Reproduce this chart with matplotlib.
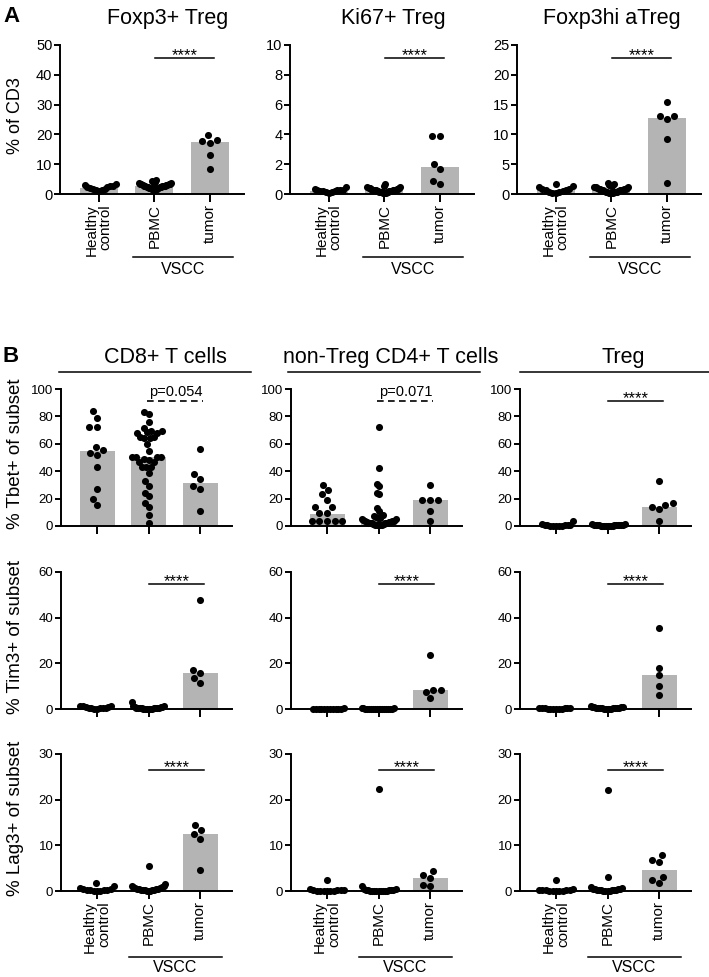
import numpy as np
import matplotlib
matplotlib.use("Agg")
import matplotlib.pyplot as plt
from matplotlib.lines import Line2D
from matplotlib.transforms import blended_transform_factory

plt.rcParams['font.family'] = ['Liberation Sans', 'DejaVu Sans']

# ---------------- data ----------------
categories = ['Healthy\ncontrol', 'PBMC', 'tumor']
group_label = 'VSCC'

# Panel A
a_titles = ['Foxp3+ Treg', 'Ki67+ Treg', 'Foxp3hi aTreg']
a_ylabel = '% of CD3'
a_ymax = [50, 10, 25]
a_ystep = [10, 2, 5]
a_sig = ['****', '****', '****']

foxp3_hc = [3.3, 2.9, 2.6, 2.4, 2.2, 2.0, 1.8, 1.6, 1.4, 1.2, 1.0, 2.7]
foxp3_pbmc = [4.6, 4.2, 4.0, 3.8, 3.7, 3.5, 3.4, 3.3, 3.2, 3.1, 3.0, 2.9, 2.8, 2.8, 2.7,
              2.6, 2.5, 2.4, 2.3, 2.2, 2.1, 2.0, 1.9, 1.8, 1.7, 1.6, 1.5, 1.4, 3.6, 2.6]
foxp3_tumor = [19.7, 17.2, 18.0, 17.7, 13.1, 8.5]
foxp3_bars = [2.0, 2.7, 17.6]

ki67_hc = [0.45, 0.35, 0.3, 0.28, 0.25, 0.2, 0.18, 0.15, 0.12, 0.1, 0.22, 0.3]
ki67_pbmc = [0.65, 0.55, 0.5, 0.45, 0.42, 0.4, 0.38, 0.35, 0.33, 0.3, 0.3, 0.28, 0.27, 0.25, 0.24,
             0.22, 0.2, 0.2, 0.18, 0.16, 0.15, 0.13, 0.12, 0.1, 0.08, 0.06, 0.35, 0.25, 0.2, 0.15]
ki67_tumor = [3.9, 3.9, 2.0, 1.7, 0.65, 0.9]
ki67_bars = [0.2, 0.25, 1.84]

atreg_hc = [1.6, 1.3, 1.1, 0.9, 0.8, 0.7, 0.6, 0.5, 0.4, 0.3, 0.25, 0.2]
atreg_pbmc = [1.9, 1.7, 1.5, 1.4, 1.3, 1.2, 1.1, 1.0, 1.0, 0.9, 0.9, 0.8, 0.8, 0.7, 0.7,
              0.6, 0.6, 0.5, 0.5, 0.4, 0.4, 0.35, 0.3, 0.3, 0.25, 0.2, 0.2, 0.15, 1.1, 0.6]
atreg_tumor = [15.5, 12.6, 13.1, 13.1, 9.2, 1.9]
atreg_bars = [0.6, 0.7, 12.8]

# Panel B
b_cols = ['CD8+ T cells', 'non-Treg CD4+ T cells', 'Treg']
b_ylabels = ['% Tbet+ of subset', '% Tim3+ of subset', '% Lag3+ of subset']
b_ymax = [100, 60, 30]
b_ystep = [20, 20, 10]
b_sig = [['p=0.054', 'p=0.071', '****'],
         ['****', '****', '****'],
         ['****', '****', '****']]

tbet_cd8_hc = [83.6, 78.7, 71.9, 71.9, 57.5, 55.5, 53.5, 51.8, 42.8, 26.7, 20.0, 15.2]
tbet_cd8_pbmc = [82.9, 81.7, 75.8, 71.4, 69.0, 69.4, 68.5, 68.0, 67.7, 64.8, 64.5, 64.0, 64.8, 60.0,
                 55.0, 50.6, 50.6, 50.6, 50.6, 48.0, 48.7, 47.0, 46.5, 42.8, 42.8, 42.8, 38.4,
                 32.8, 29.0, 24.2, 21.8, 16.9, 13.9, 8.3, 2.2]
tbet_cd8_tumor = [56.0, 37.7, 34.2, 29.1, 26.9, 10.8]
tbet_cd8_bars = [54.8, 50.6, 31.5]

tbet_cd4_hc = [30.2, 26.5, 23.4, 19.2, 13.6, 13.6, 9.2, 9.2, 3.5, 3.5, 3.5, 3.5, 3.5]
tbet_cd4_pbmc = [72, 42, 31, 29, 24, 23, 13, 11, 8, 7, 6.5, 6, 5.5, 5, 4.5, 4, 4, 3.5, 3, 3, 2.5,
                 2.5, 2, 2, 1.5, 1.5, 1, 1, 0.5, 0.5, 3, 5, 7, 2, 1]
tbet_cd4_tumor = [30.2, 19.2, 19.2, 19.2, 10.7, 3.9]
tbet_cd4_bars = [8.5, 4.5, 19.0]

tbet_treg_hc = [3.4, 1.5, 1.0, 0.8, 0.6, 0.5, 0.4, 0.3, 0.3, 0.2, 0.2, 0.1]
tbet_treg_pbmc = [1.5, 1.2, 1.0, 0.9, 0.8, 0.7, 0.6, 0.5, 0.5, 0.4, 0.4, 0.3, 0.3, 0.2, 0.2, 0.1,
                  0.1, 0.1, 0.6, 0.3]
tbet_treg_tumor = [33.1, 15.6, 12.4, 13.6, 16.5, 3.4]
tbet_treg_bars = [0.5, 0.3, 14.1]

tim3_cd8_hc = [1.5, 1.3, 1.2, 1.0, 0.8, 0.6, 0.5, 0.4, 0.3, 0.3, 0.2, 0.2]
tim3_cd8_pbmc = [2.9, 1.5, 1.2, 1.0, 0.8, 0.7, 0.6, 0.5, 0.5, 0.4, 0.4, 0.3, 0.3, 0.3, 0.2, 0.2,
                 0.2, 0.1, 0.1, 0.1]
tim3_cd8_tumor = [47.6, 17.1, 15.9, 13.7, 11.5]
tim3_cd8_bars = [0.5, 0.3, 15.9]

tim3_cd4_hc = [0.3, 0.2, 0.2, 0.15, 0.1, 0.1, 0.1, 0.05, 0.05, 0.05, 0.2, 0.1]
tim3_cd4_pbmc = [0.4, 0.3, 0.3, 0.2, 0.2, 0.2, 0.15, 0.1, 0.1, 0.1, 0.1, 0.05, 0.05, 0.05, 0.05,
                 0.2, 0.1, 0.1]
tim3_cd4_tumor = [23.8, 8.5, 7.4, 8.2, 4.6]
tim3_cd4_bars = [0.1, 0.1, 8.2]

tim3_treg_hc = [0.6, 0.5, 0.4, 0.4, 0.3, 0.3, 0.2, 0.2, 0.1, 0.1, 0.1, 0.1]
tim3_treg_pbmc = [1.2, 1.0, 0.9, 0.8, 0.7, 0.6, 0.6, 0.5, 0.5, 0.4, 0.4, 0.3, 0.3, 0.2, 0.2, 0.2,
                  0.1, 0.1]
tim3_treg_tumor = [35.4, 18.1, 14.7, 10.0, 6.3]
tim3_treg_bars = [0.2, 0.4, 14.7]

lag3_cd8_hc = [1.7, 1.2, 0.6, 0.5, 0.4, 0.3, 0.3, 0.2, 0.2, 0.1, 0.1, 0.1]
lag3_cd8_pbmc = [5.5, 1.5, 1.2, 1.0, 0.9, 0.8, 0.7, 0.6, 0.5, 0.5, 0.4, 0.4, 0.3, 0.3, 0.2, 0.2,
                 0.2, 0.1, 0.1, 0.1]
lag3_cd8_tumor = [14.4, 13.3, 12.4, 11.3, 4.6]
lag3_cd8_bars = [0.3, 0.5, 12.4]

lag3_cd4_hc = [2.3, 0.4, 0.3, 0.2, 0.2, 0.2, 0.1, 0.1, 0.1, 0.1, 0.05, 0.05]
lag3_cd4_pbmc = [22.4, 1.1, 0.5, 0.4, 0.3, 0.3, 0.2, 0.2, 0.2, 0.1, 0.1, 0.1, 0.1, 0.05, 0.05,
                 0.05, 0.05, 0.1]
lag3_cd4_tumor = [4.4, 2.9, 3.6, 1.1, 1.3]
lag3_cd4_bars = [0.2, 0.2, 2.9]

lag3_treg_hc = [2.3, 0.4, 0.3, 0.3, 0.2, 0.2, 0.2, 0.1, 0.1, 0.1, 0.1, 0.05]
lag3_treg_pbmc = [22.2, 3.1, 0.8, 0.6, 0.5, 0.5, 0.4, 0.4, 0.3, 0.3, 0.3, 0.2, 0.2, 0.2, 0.1, 0.1,
                  0.1, 0.05]
lag3_treg_tumor = [7.8, 6.3, 6.8, 3.1, 1.7, 2.3]
lag3_treg_bars = [0.2, 0.3, 4.6]

a_data = [
    ([foxp3_hc, foxp3_pbmc, foxp3_tumor], foxp3_bars),
    ([ki67_hc, ki67_pbmc, ki67_tumor], ki67_bars),
    ([atreg_hc, atreg_pbmc, atreg_tumor], atreg_bars),
]
b_data = [
    [([tbet_cd8_hc, tbet_cd8_pbmc, tbet_cd8_tumor], tbet_cd8_bars),
     ([tbet_cd4_hc, tbet_cd4_pbmc, tbet_cd4_tumor], tbet_cd4_bars),
     ([tbet_treg_hc, tbet_treg_pbmc, tbet_treg_tumor], tbet_treg_bars)],
    [([tim3_cd8_hc, tim3_cd8_pbmc, tim3_cd8_tumor], tim3_cd8_bars),
     ([tim3_cd4_hc, tim3_cd4_pbmc, tim3_cd4_tumor], tim3_cd4_bars),
     ([tim3_treg_hc, tim3_treg_pbmc, tim3_treg_tumor], tim3_treg_bars)],
    [([lag3_cd8_hc, lag3_cd8_pbmc, lag3_cd8_tumor], lag3_cd8_bars),
     ([lag3_cd4_hc, lag3_cd4_pbmc, lag3_cd4_tumor], lag3_cd4_bars),
     ([lag3_treg_hc, lag3_treg_pbmc, lag3_treg_tumor], lag3_treg_bars)],
]

# ---------------- layout ----------------
W, H = 709, 977
fig = plt.figure(figsize=(W / 100, H / 100), dpi=100)
BAR_COLOR = '#b4b4b4'
SPINE_LW = 1.4


def px_rect(left, top, width, height):
    return [left / W, 1 - (top + height) / H, width / W, height / H]


def swarm(ax, xc, vals, d_px=7.6, max_px=17.0):
    vals = np.asarray(vals, float)
    pts = ax.transData.transform(np.column_stack([np.full(len(vals), xc), vals]))
    ys = pts[:, 1]
    order = np.argsort(ys, kind='stable')
    placed = []
    offs = np.zeros(len(vals))
    for i in order:
        y = ys[i]
        near = [(xo, yo) for xo, yo in placed if abs(yo - y) < d_px]
        cands = [0.0]
        for xo, yo in near:
            dx = np.sqrt(d_px ** 2 - (yo - y) ** 2)
            cands += [xo - dx, xo + dx]
        cands.sort(key=abs)
        chosen = cands[-1]
        for c in cands:
            if all((c - xo) ** 2 + (y - yo) ** 2 >= d_px ** 2 - 1e-6 for xo, yo in near):
                chosen = c
                break
        offs[i] = chosen
        placed.append((chosen, y))
    m = np.abs(offs).max()
    if m > max_px:
        offs *= max_px / m
    x0 = ax.transData.transform((xc, 0))[0]
    x1 = ax.transData.transform((xc + 1, 0))[0]
    return xc + offs / (x1 - x0)


def draw_panel(ax, groups, bars, ymax, ystep, sig, tick_fs, show_labels, sig_frac, bracket_px):
    x = np.arange(len(categories))
    ax.set_xlim(-0.70, 2.62)
    ax.set_ylim(0, ymax)
    ax.bar(x, bars, width=0.68, color=BAR_COLOR, zorder=1)
    for xi, vals in zip(x, groups):
        xs = swarm(ax, xi, vals)
        ax.scatter(xs, vals, s=26, color='black', zorder=4, clip_on=False, linewidths=0)
    for s in ['top', 'right']:
        ax.spines[s].set_visible(False)
    for s in ['left', 'bottom']:
        ax.spines[s].set_linewidth(SPINE_LW)
    ax.set_yticks(np.arange(0, ymax + 0.01, ystep))
    ax.tick_params(axis='y', length=4, width=SPINE_LW, labelsize=tick_fs, pad=1.5)
    ax.tick_params(axis='x', length=5.5, width=SPINE_LW, pad=2)
    ax.set_xticks(x)
    if show_labels:
        ax.set_xticklabels(categories, rotation=90, fontsize=11, ha='center', va='top',
                           multialignment='right', linespacing=1.0)
        tr = blended_transform_factory(ax.transData, ax.transAxes)
        hpx = ax.get_position().height * H
        yl = -bracket_px[0] / hpx
        ax.add_line(Line2D([0.62, 2.42], [yl, yl], transform=tr, color='black', lw=1.1,
                           clip_on=False))
        ax.text(1.52, -bracket_px[1] / hpx, group_label, transform=tr, ha='center',
                va='top', fontsize=11.5)
    else:
        ax.set_xticklabels([])
    # significance
    ys = ymax * sig_frac
    if sig.startswith('p='):
        ax.plot([0.97, 2.06], [ys, ys], color='black', lw=1.2, ls=(0, (4, 2.6)), clip_on=False)
        ax.annotate(sig, (1.53, ys), xytext=(0, 3.0), textcoords='offset points',
                    ha='center', va='baseline', fontsize=10.5, annotation_clip=False)
    else:
        ax.plot([1.01, 2.07], [ys, ys], color='black', lw=1.1, clip_on=False)
        ax.annotate(sig, (1.54, ys), xytext=(0, -1.5), textcoords='offset points',
                    ha='center', va='baseline', fontsize=12, annotation_clip=False)


# Panel A
a_left = [60, 290, 517]
a_spacing = 55.5
a_w = 3.32 * a_spacing
a_top, a_h = 45, 149
a_title_x = [168, 393, 612]
for i in range(3):
    ax = fig.add_axes(px_rect(a_left[i], a_top, a_w, a_h))
    groups, bars = a_data[i]
    draw_panel(ax, groups, bars, a_ymax[i], a_ystep[i], a_sig[i], 10.5, True, 0.91, (63, 68))
    fig.text(a_title_x[i] / W, 1 - 24 / H, a_titles[i], ha='center', va='baseline', fontsize=15.5)
fig.text(16 / W, 1 - (a_top + a_h / 2 - 4) / H, a_ylabel, rotation=90, ha='center',
         va='center', fontsize=13)
fig.text(3 / W, 1 - 22 / H, 'A', ha='left', va='baseline', fontsize=16, fontweight='bold')

# Panel B
b_left = [61, 291, 520]
b_spacing = 51.5
b_w = 3.32 * b_spacing
b_tops = [389, 572, 754]
b_h = 137
for r in range(3):
    for c in range(3):
        ax = fig.add_axes(px_rect(b_left[c], b_tops[r], b_w, b_h))
        groups, bars = b_data[r][c]
        draw_panel(ax, groups, bars, b_ymax[r], b_ystep[r], b_sig[r][c], 9.5, r == 2,
                   0.915 if r < 2 else 0.885, (66, 69))
    fig.text(16 / W, 1 - (b_tops[r] + b_h / 2 - 4) / H, b_ylabels[r], rotation=90,
             ha='center', va='center', fontsize=13.5)

hdr_lines = [(59, 251), (288, 480), (520, 709)]
hdr_x = [165, 391, 623]
for c in range(3):
    x0, x1 = hdr_lines[c]
    fig.add_artist(Line2D([x0 / W, x1 / W], [1 - 372 / H, 1 - 372 / H], color='black',
                          lw=1.1, transform=fig.transFigure))
    fig.text(hdr_x[c] / W, 1 - 363 / H, b_cols[c], ha='center', va='baseline', fontsize=15.5)
fig.text(3 / W, 1 - 362 / H, 'B', ha='left', va='baseline', fontsize=16, fontweight='bold')

fig.savefig('out.png', dpi=100)
